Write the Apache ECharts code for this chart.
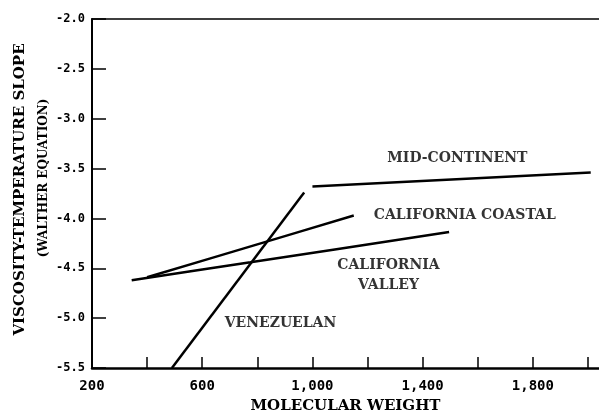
<!DOCTYPE html>
<html>
<head>
<meta charset="utf-8">
<script src="https://cdn.jsdelivr.net/npm/echarts@6/dist/echarts.min.js"></script>
<style>html,body{margin:0;padding:0;background:#fff}#c{width:599px;height:413px}</style>
</head>
<body>
<div id="c"></div>
<script>
// Data
const venezuelanX = [490, 970];
const venezuelanY = [-5.5, -3.74];
const midContinentX = [1000, 2010];
const midContinentY = [-3.68, -3.54];
const coastalX = [400, 800, 1150];
const coastalY = [-4.59, -4.26, -3.97];
const valleyX = [344, 775, 1496];
const valleyY = [-4.62, -4.44, -4.135];
const labelNames = ['MID-CONTINENT', 'CALIFORNIA COASTAL', 'CALIFORNIA\nVALLEY', 'VENEZUELAN'];
const labelX = [1526, 1553, 1276, 884];
const labelY = [-3.40, -3.97, -4.57, -5.055];

const xTicks = [200, 400, 600, 800, 1000, 1200, 1400, 1600, 1800, 2000];
const yTicks = [-5.5, -5.0, -4.5, -4.0, -3.5, -3.0, -2.5, -2.0];

function pairs(xs, ys) { return xs.map((x, i) => [x, ys[i]]); }
const lineStyle = { color: '#000', width: 2.5 };
const serif = '"DejaVu Serif", "Liberation Serif", serif';
const mono = '"DejaVu Sans Mono", "Liberation Mono", monospace';

const chart = echarts.init(document.getElementById('c'), null, { renderer: 'canvas' });
chart.setOption({
  animation: false,
  backgroundColor: '#fff',
  grid: { left: 92, right: 0, top: 19, bottom: 45, outerBoundsMode: 'none', containLabel: false },
  xAxis: [{
    type: 'value', min: 200, max: 2040, interval: 200,
    name: 'MOLECULAR WEIGHT', nameLocation: 'middle', nameGap: 31, nameMoveOverlap: false,
    nameTextStyle: { fontFamily: serif, fontWeight: 'bold', fontSize: 15, color: '#000' },
    axisLine: { show: true, lineStyle: { color: '#000', width: 2.5 } },
    axisTick: { show: true, inside: true, length: 11, lineStyle: { color: '#000', width: 1.5 } },
    splitLine: { show: false },
    axisLabel: {
      showMaxLabel: false, margin: 11,
      fontFamily: mono, fontWeight: 'bold', fontSize: 14, color: '#000',
      formatter: v => (xTicks.indexOf(v) % 2 === 0) ? String(v).replace(/\B(?=(\d{3})+(?!\d))/g, ',') : ''
    }
  }, {
    type: 'value', min: 200, max: 2040, position: 'top',
    axisLine: { show: true, lineStyle: { color: '#000', width: 1.5 } },
    axisTick: { show: false }, axisLabel: { show: false }, splitLine: { show: false }
  }],
  yAxis: {
    type: 'value', min: -5.5, max: -2.0, interval: 0.5,
    name: '{a|VISCOSITY-TEMPERATURE SLOPE}\n{b|(WALTHER EQUATION)}',
    nameLocation: 'middle', nameGap: 37, nameRotate: 90, nameMoveOverlap: false,
    nameTextStyle: {
      color: '#000',
      rich: {
        a: { fontFamily: serif, fontWeight: 'bold', fontSize: 15, lineHeight: 23, color: '#000', padding: [0, 0, 0, 8] },
        b: { fontFamily: serif, fontWeight: 'bold', fontSize: 12, lineHeight: 23, color: '#000', padding: [0, 0, 0, 31] }
      }
    },
    axisLine: { show: true, lineStyle: { color: '#000', width: 2 } },
    axisTick: { show: true, inside: true, length: 14, lineStyle: { color: '#000', width: 1.5 } },
    splitLine: { show: false },
    axisLabel: {
      margin: 7, fontFamily: mono, fontWeight: 'bold', fontSize: 12, color: '#000',
      formatter: v => v.toFixed(1)
    }
  },
  series: [
    { type: 'line', data: pairs(venezuelanX, venezuelanY), showSymbol: false, lineStyle },
    { type: 'line', data: pairs(midContinentX, midContinentY), showSymbol: false, lineStyle },
    { type: 'line', data: pairs(coastalX, coastalY), showSymbol: false, smooth: 0.3, lineStyle },
    { type: 'line', data: pairs(valleyX, valleyY), showSymbol: false, smooth: 0.3, lineStyle },
    {
      type: 'scatter', symbolSize: 0,
      data: labelNames.map((n, i) => ({ name: n, value: [labelX[i], labelY[i]] })),
      label: {
        show: true, position: 'inside', formatter: p => p.name,
        fontFamily: serif, fontWeight: 'bold', fontSize: 14, color: '#000', lineHeight: 20, align: 'center'
      }
    }
  ]
});
</script>
</body>
</html>
